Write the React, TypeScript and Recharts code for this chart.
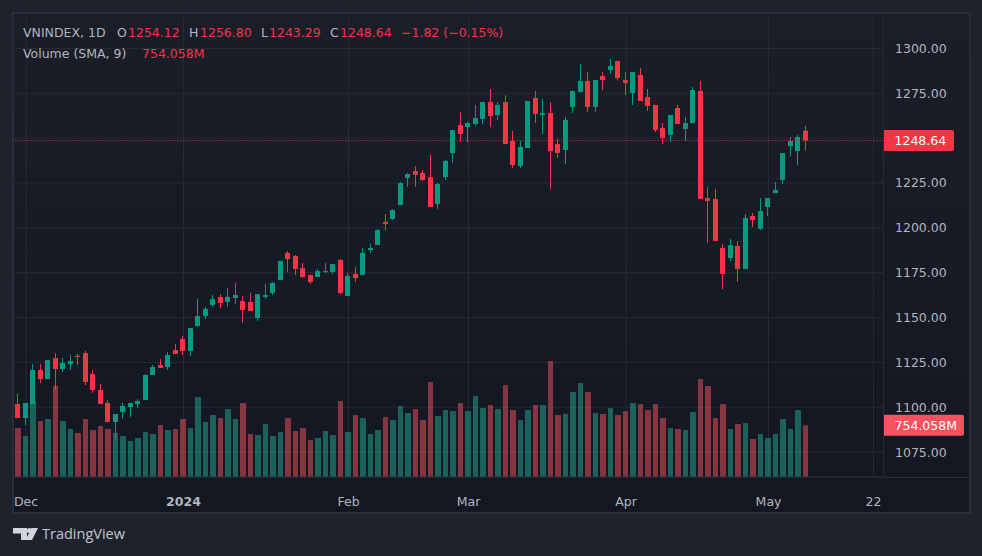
import React from "react";
import {
  Bar,
  CartesianGrid,
  Cell,
  ComposedChart,
  ReferenceLine,
  XAxis,
  YAxis,
} from "recharts";

const UP = "#089981";
const DOWN = "#f23645";
const VOL_UP = "rgba(34,171,148,0.5)";
const VOL_DOWN = "rgba(247,82,95,0.5)";
const TEXT = "#b2b5be";
const FONT = "'DejaVu Sans', sans-serif";

const opens = [
  null, 1101.8, 1094.0, 1101.8, 1120.8, 1115.7, 1127.4, 1121.3, 1124.1, 1128.7, 1130.2, 1118.5, 1109.6, 1102.4,
  1091.8, 1097.4, 1100.1, 1101.8, 1104.0, 1118.0, 1123.5, 1122.4, 1131.9, 1138.0, 1131.4, 1145.3, 1150.9, 1157.0,
  1161.5, 1158.7, 1160.9, 1159.2, 1158.7, 1149.7, 1161.5, 1163.7, 1170.9, 1186.0, 1184.3, 1177.6, 1173.7, 1172.6,
  1175.4, 1175.4, 1182.1, 1162.0, 1174.3, 1173.7, 1187.6, 1190.4, 1203.3, 1204.9, 1212.7, 1227.8, 1231.7, 1230.6,
  1228.3, 1213.3, 1228.3, 1241.7, 1257.3, 1256.2, 1257.9, 1260.7, 1270.1, 1262.9, 1270.1, 1248.4, 1234.5, 1244.5,
  1272.4, 1262.9, 1264.0, 1246.7, 1243.4, 1267.4, 1275.7, 1281.9, 1267.4, 1284.6, 1288.0, 1293.0, 1282.4, 1275.2,
  1285.2, 1272.9, 1268.5, 1255.7, 1251.8, 1266.8, 1255.1, 1258.4, 1276.3, 1216.6, 1216.1, 1188.8, 1183.2, 1189.9,
  1177.1, 1206.6, 1199.4, 1211.6, 1219.4, 1226.7, 1245.6, 1242.8, 1254.12,
];
const highs = [
  null, 1107.4, 1102.4, 1124.1, 1124.1, 1126.3, 1130.2, 1127.4, 1129.1, 1129.7, 1131.4, 1120.8, 1113.0, 1104.0,
  1096.2, 1102.4, 1102.4, 1104.6, 1118.5, 1123.5, 1126.9, 1130.8, 1135.3, 1139.7, 1144.2, 1160.3, 1155.9, 1162.6,
  1163.1, 1166.5, 1169.3, 1162.0, 1163.7, 1163.1, 1168.7, 1169.8, 1181.5, 1187.1, 1184.9, 1180.4, 1173.7, 1177.1,
  1180.4, 1179.8, 1182.6, 1174.8, 1178.2, 1188.8, 1191.0, 1199.4, 1207.7, 1210.5, 1225.6, 1230.6, 1234.5, 1232.2,
  1240.6, 1225.0, 1237.8, 1254.5, 1264.6, 1259.0, 1268.5, 1270.1, 1277.4, 1270.1, 1274.0, 1254.0, 1248.4, 1270.7,
  1276.3, 1271.8, 1270.1, 1249.5, 1261.8, 1276.3, 1291.3, 1286.9, 1282.4, 1286.9, 1294.1, 1293.0, 1286.9, 1286.9,
  1289.1, 1277.4, 1268.5, 1258.4, 1262.9, 1268.5, 1261.8, 1278.5, 1281.9, 1222.8, 1221.7, 1191.0, 1193.8, 1192.7,
  1207.7, 1208.3, 1216.6, 1216.6, 1225.6, 1241.7, 1250.6, 1251.8, 1256.8,
];
const lows = [
  null, 1094.0, 1090.1, 1101.8, 1113.5, 1115.7, 1109.6, 1119.7, 1120.8, 1123.5, 1112.4, 1108.0, 1101.8, 1091.8,
  1082.3, 1093.5, 1094.6, 1099.6, 1104.0, 1118.0, 1121.9, 1120.8, 1129.7, 1129.1, 1128.6, 1144.7, 1149.2, 1155.9,
  1155.3, 1155.9, 1157.6, 1147.0, 1153.6, 1148.1, 1160.3, 1162.6, 1170.9, 1175.4, 1173.7, 1172.0, 1168.7, 1172.6,
  1174.8, 1174.3, 1163.1, 1162.0, 1169.8, 1173.7, 1186.0, 1190.4, 1198.8, 1204.4, 1212.7, 1222.8, 1222.8, 1226.1,
  1211.6, 1210.5, 1226.7, 1236.1, 1247.8, 1247.8, 1256.8, 1257.9, 1256.2, 1260.1, 1246.7, 1233.4, 1233.4, 1244.5,
  1258.4, 1252.3, 1221.7, 1238.9, 1235.6, 1264.0, 1275.7, 1264.6, 1264.6, 1276.8, 1285.8, 1282.4, 1274.0, 1268.5,
  1270.7, 1265.1, 1253.4, 1246.7, 1247.8, 1257.9, 1248.4, 1258.4, 1216.1, 1191.6, 1192.7, 1165.9, 1181.5, 1169.8,
  1177.1, 1200.5, 1198.8, 1206.6, 1219.4, 1224.4, 1240.0, 1235.0, 1243.29,
];
const closes = [
  null, 1094.0, 1102.4, 1120.8, 1115.7, 1126.3, 1121.3, 1124.7, 1125.8, 1128.0, 1114.1, 1109.6, 1101.8, 1091.8,
  1096.2, 1100.7, 1102.4, 1103.5, 1118.0, 1122.4, 1121.9, 1129.1, 1129.7, 1131.4, 1144.2, 1150.9, 1154.8, 1160.3,
  1158.1, 1161.5, 1162.6, 1154.2, 1153.6, 1163.1, 1162.6, 1169.3, 1181.5, 1182.6, 1177.1, 1172.6, 1169.8, 1175.9,
  1175.9, 1179.8, 1163.7, 1173.2, 1172.0, 1186.0, 1188.8, 1198.8, 1202.1, 1209.9, 1225.0, 1230.0, 1229.5, 1226.7,
  1211.6, 1224.4, 1237.3, 1254.5, 1252.3, 1258.4, 1261.2, 1270.1, 1262.3, 1268.5, 1246.7, 1235.0, 1245.1, 1270.7,
  1263.5, 1264.0, 1242.8, 1241.7, 1260.1, 1276.3, 1281.9, 1267.4, 1282.4, 1282.4, 1290.2, 1283.5, 1280.7, 1286.9,
  1270.7, 1267.9, 1254.5, 1250.1, 1262.9, 1257.9, 1258.4, 1276.8, 1216.1, 1215.0, 1192.7, 1174.3, 1190.4, 1177.1,
  1205.5, 1204.4, 1209.4, 1216.6, 1221.1, 1241.7, 1248.4, 1250.6, 1248.64,
];
const volumes = [
  612, 714, 598, 1108, 816, 846, 1327, 816, 700, 642, 846, 685, 744, 700, 642, 598, 525, 569, 656, 627, 758, 685,
  700, 846, 714, 1166, 802, 904, 860, 991, 846, 1079, 627, 612, 773, 598, 656, 860, 671, 714, 539, 569, 671, 612,
  1108, 656, 904, 860, 627, 685, 875, 831, 1035, 933, 991, 831, 1385, 889, 977, 962, 1079, 962, 1181, 1006, 1050,
  991, 1341, 977, 831, 977, 1050, 1050, 1691, 904, 919, 1239, 1371, 1239, 933, 919, 1006, 904, 962, 1079, 1064,
  977, 1064, 860, 714, 700, 685, 948, 1429, 1327, 860, 1064, 700, 773, 787, 554, 627, 569, 627, 846, 700, 977,
  754.058,
];

const priceTicks = [1075, 1100, 1125, 1150, 1175, 1200, 1225, 1250, 1275, 1300];
const timeTicks = [2, 23, 45, 61, 82, 101, 115];
const timeLabels = ["Dec", "2024", "Feb", "Mar", "Apr", "May", "22"];

const lastClose = 1248.64;
const lastVolume = 754.058;

const legendTop = [
  { text: "VNINDEX, 1D", x: 23, color: TEXT },
  { text: "O", x: 117, color: TEXT },
  { text: "1254.12", x: 128, color: DOWN },
  { text: "H", x: 189, color: TEXT },
  { text: "1256.80", x: 200, color: DOWN },
  { text: "L", x: 261, color: TEXT },
  { text: "1243.29", x: 269, color: DOWN },
  { text: "C", x: 330, color: TEXT },
  { text: "1248.64", x: 340, color: DOWN },
  { text: "−1.82 (−0.15%)", x: 401, color: DOWN },
];
const legendBottom = [
  { text: "Volume (SMA, 9)", x: 23, color: TEXT },
  { text: "754.058M", x: 142, color: DOWN },
];

const data = volumes.map((volume, i) => ({
  bar: i,
  open: opens[i],
  high: highs[i],
  low: lows[i],
  close: closes[i],
  volume,
}));

const isUp = (d: any) => d.open === null || d.close >= d.open;

function Candle(props: any) {
  const { x, y, width, height, payload } = props;
  if (payload.open === null || !height) return null;
  const { open, high, low, close } = payload;
  const top = Math.min(y, y + height);
  const h = Math.abs(height);
  const yOf = (p: number) => top + ((high - p) / (high - low)) * h;
  const color = isUp(payload) ? UP : DOWN;
  const bodyTop = yOf(Math.max(open, close));
  const bodyBottom = yOf(Math.min(open, close));
  const left = Math.floor(x);
  return (
    <g>
      <rect x={left + 2} y={top} width={1} height={h} fill={color} />
      <rect
        x={left}
        y={bodyTop}
        width={Math.round(width)}
        height={Math.max(bodyBottom - bodyTop, 1)}
        fill={color}
      />
    </g>
  );
}

function VolumeBar(props: any) {
  const { x, y, width, height, fill } = props;
  const left = Math.ceil(x - 1);
  return <rect x={left} y={y} width={Math.floor(x + width - 0.5) - left} height={height} fill={fill} />;
}

function AxisTag({ viewBox, text, fill, w }: any) {
  const x = viewBox.x + viewBox.width + 0.5;
  const y = viewBox.y;
  return (
    <g>
      <path
        d={`M${x} ${y - 10.5}h${w - 2}q2 0 2 2v17q0 2 -2 2h${-(w - 2)}z`}
        fill={fill}
      />
      <text x={x + 10.5} y={y + 4.5} fill="#fff" fontSize={12.5} fontFamily={FONT}>
        {text}
      </text>
    </g>
  );
}

function TimeTick({ x, y, payload }: any) {
  const label = timeLabels[timeTicks.indexOf(payload.value)];
  return (
    <text
      x={x}
      y={y + 21}
      textAnchor="middle"
      fill={TEXT}
      fontSize={12.5}
      fontFamily={FONT}
      fontWeight={label === "2024" ? 700 : 400}
    >
      {label}
    </text>
  );
}

function Legend({ items, top }: any) {
  return items.map((item: any) => (
    <span
      key={item.text + item.x}
      style={{
        position: "absolute",
        left: item.x,
        top,
        color: item.color,
        fontFamily: FONT,
        fontSize: 12.5,
        lineHeight: "16px",
        whiteSpace: "pre",
      }}
    >
      {item.text}
    </span>
  ));
}

export default function App() {
  return (
    <div style={{ position: "absolute", left: 0, top: 0, width: 982, height: 556, background: "#1e222d", overflow: "hidden" }}>
      <div
        style={{
          position: "absolute",
          left: 12,
          top: 12,
          width: 955,
          height: 498,
          border: "2px solid #2a2e39",
          background: "linear-gradient(#1a1e29, #131722)",
        }}
      />
      <div style={{ position: "absolute", left: 884, top: 477, width: 84, height: 1, background: "#2a2e39" }} />
      <div style={{ position: "absolute", left: 0, top: 0 }}>
        <ComposedChart
          width={982}
          height={556}
          data={data}
          margin={{ top: 13, right: 14, bottom: 45, left: 13 }}
        >
          <CartesianGrid xAxisId="time" yAxisId="price" stroke="#2a2e39" strokeOpacity={0.8} />
          <XAxis
            xAxisId="time"
            dataKey="bar"
            type="number"
            domain={[0.267, 116.33]}
            allowDataOverflow
            ticks={timeTicks}
            interval={0}
            height={34}
            tickLine={false}
            stroke="#2a2e39"
            tick={<TimeTick />}
          />
          <XAxis xAxisId="vol" dataKey="bar" type="number" domain={[0.267, 116.33]} allowDataOverflow hide />
          <YAxis
            yAxisId="price"
            orientation="right"
            type="number"
            domain={[1061.12, 1319.76]}
            allowDataOverflow
            ticks={priceTicks}
            interval={0}
            width={84.5}
            axisLine={false}
            tickLine={false}
            tickSize={0}
            tickMargin={11.5}
            tick={{ fill: TEXT, fontSize: 12.5, fontFamily: FONT, textAnchor: "start" }}
            tickFormatter={(v: number) => (v === 1250 ? "" : v.toFixed(2))}
          />
          <YAxis yAxisId="vol" type="number" domain={[0, 6767]} hide />
          <Bar
            xAxisId="vol"
            yAxisId="vol"
            dataKey="volume"
            barSize={6}
            isAnimationActive={false}
            shape={<VolumeBar />}
          >
            {data.map((d) => (
              <Cell key={d.bar} fill={isUp(d) ? VOL_UP : VOL_DOWN} />
            ))}
          </Bar>
          <Bar
            xAxisId="time"
            yAxisId="price"
            dataKey={(d: any) => (d.open === null ? null : [d.low, d.high])}
            barSize={5}
            isAnimationActive={false}
            shape={<Candle />}
          />
          <ReferenceLine
            xAxisId="time"
            yAxisId="price"
            y={lastClose}
            stroke={DOWN}
            strokeDasharray="1 2"
            label={<AxisTag text={lastClose.toFixed(2)} fill={DOWN} w={70} />}
          />
          <ReferenceLine
            xAxisId="vol"
            yAxisId="vol"
            y={lastVolume}
            stroke="none"
            label={<AxisTag text={`${lastVolume.toFixed(3)}M`} fill="#f7525f" w={80} />}
          />
        </ComposedChart>
      </div>
      <Legend items={legendTop} top={25} />
      <Legend items={legendBottom} top={46} />
      <svg style={{ position: "absolute", left: 13, top: 527 }} width={25} height={14} viewBox="0 0 25 14">
        <path d="M0 1h14v12h-6v-6.5h-8z M25 1l-6 12h-6.5l6-12z" fill="#d1d4dc" />
        <circle cx={16.5} cy={3.6} r={2.6} fill="#d1d4dc" />
      </svg>
      <span
        style={{
          position: "absolute",
          left: 42,
          top: 525,
          color: "#c3c6ce",
          fontFamily: "'Open Sans', sans-serif",
          fontSize: 14.5,
          fontWeight: 500,
          lineHeight: "18px",
        }}
      >
        TradingView
      </span>
    </div>
  );
}
